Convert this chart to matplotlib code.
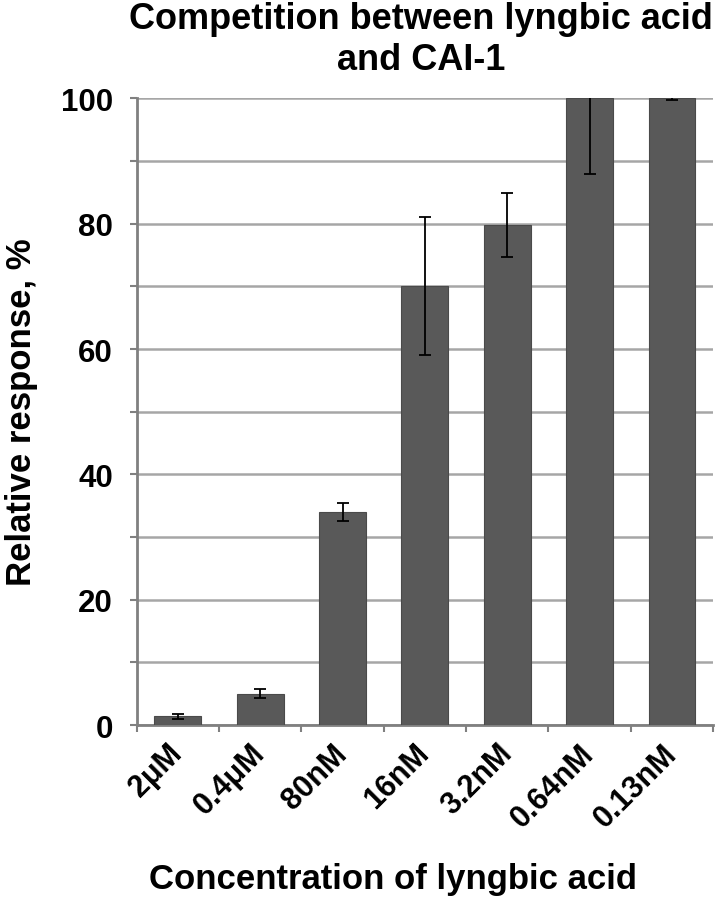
import matplotlib
matplotlib.use("Agg")
import matplotlib.pyplot as plt
import matplotlib.transforms as mtransforms
import numpy as np

plt.rcParams['font.family'] = ['Liberation Sans', 'DejaVu Sans']

categories = ["2\u03bcM", "0.4\u03bcM", "80nM", "16nM", "3.2nM", "0.64nM", "0.13nM"]
response = [1.4, 5.0, 34.0, 70.0, 79.8, 100.0, 100.0]
error = [0.4, 0.7, 1.4, 11.0, 5.1, 12.0, 0.3]

fig = plt.figure(figsize=(7.27, 9.03), dpi=100)
ax = fig.add_axes([0.188, 0.196, 0.793, 0.694])

x = np.arange(len(categories))
ax.bar(x, response, width=0.57, color='#595959', edgecolor='#4a4a4a', linewidth=0.8, zorder=3)
ax.errorbar(x, response, yerr=error, fmt='none', ecolor='black', elinewidth=1.3,
            capsize=4, capthick=1.3, zorder=4)

ax.set_xlim(-0.5, len(categories) - 0.5)
ax.set_ylim(0, 100)
ax.set_yticks(np.arange(0, 101, 20))
ax.set_yticks(np.arange(0, 101, 10), minor=True)
ax.grid(axis='y', which='both', color='#a6a6a6', linewidth=1.8, zorder=0)

ax.set_xticks(np.arange(-0.5, len(categories), 1.0), minor=True)
ax.set_xticks(x)
ax.set_xticklabels(categories, rotation=45, ha='right', va='center', rotation_mode='anchor',
                   fontsize=22, fontweight='bold')
shift = mtransforms.ScaledTranslation(0.33, 0, fig.dpi_scale_trans)
for lab in ax.get_xticklabels():
    lab.set_transform(lab.get_transform() + shift)
ax.tick_params(axis='x', which='major', length=0, pad=17)
ax.tick_params(axis='x', which='minor', length=5, width=1.5, color='#808080', direction='out')
ax.tick_params(axis='y', which='both', length=5, width=1.5, color='#808080', labelsize=22.5, pad=12)
for lab in ax.get_yticklabels():
    lab.set_fontweight('bold')

for side in ['top', 'right']:
    ax.spines[side].set_visible(False)
for side in ['left', 'bottom']:
    ax.spines[side].set_color('#808080')
    ax.spines[side].set_linewidth(2)

ax.set_ylabel("Relative response, %", fontsize=25, fontweight='bold')
ax.yaxis.set_label_coords(-0.172, 0.5)
ax.set_xlabel("Concentration of lyngbic acid", fontsize=25, fontweight='bold')
ax.xaxis.set_label_coords(0.444, -0.218)
fig.text(0.579, 0.998, "Competition between lyngbic acid\nand CAI-1", ha='center', va='top',
         fontsize=26, fontweight='bold', linespacing=1.22)

fig.savefig("out.png", dpi=100)
